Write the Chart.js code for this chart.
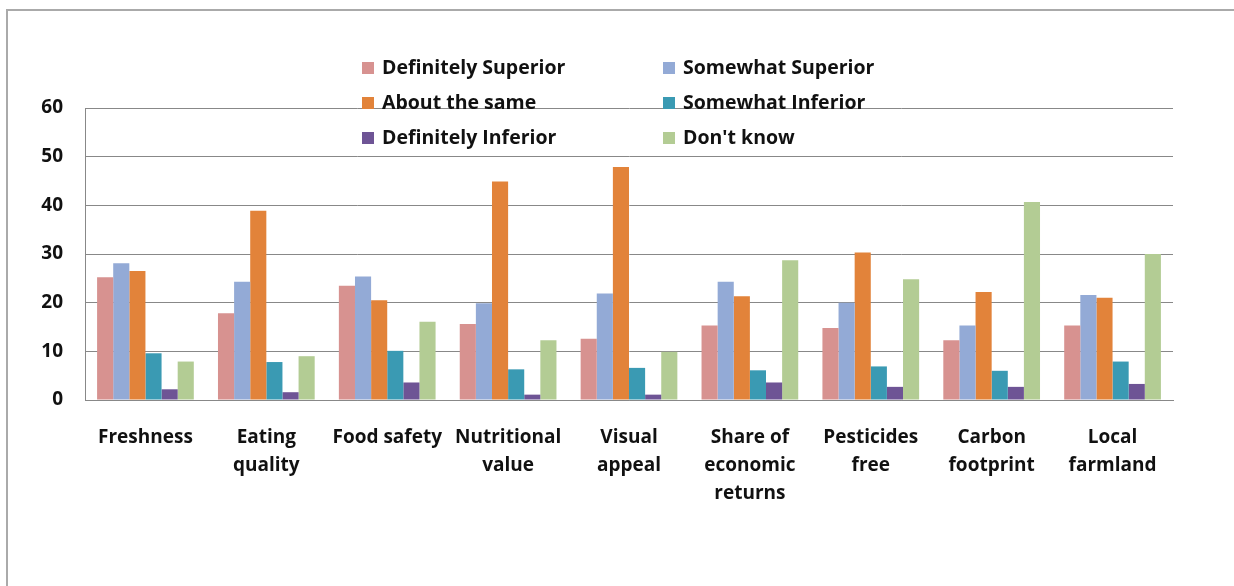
<!DOCTYPE html>
<html>
<head>
<meta charset="utf-8">
<script src="https://cdn.jsdelivr.net/npm/chart.js@4"></script>
<style>
  body { margin: 0; background: #fff; }
  #wrap { position: relative; width: 1234px; height: 586px; overflow: hidden; }
  #frame { position: absolute; left: 6px; top: 9px; width: 1300px; height: 700px;
           border-left: 2px solid #aaa; border-top: 2px solid #aaa; }
  #pieChart { position: absolute; left: 0; top: 0; }
  #legend { position: absolute; left: 362px; top: 53px; width: 560px;
            font: bold 19.5px "Open Sans", sans-serif; color: #111; }
  .item { position: absolute; white-space: nowrap; }
  .sw { display: inline-block; width: 12px; height: 12px; margin-right: 8px; vertical-align: 0px; }
</style>
</head>
<body>
<div id="wrap">
  <div id="frame"></div>
  <canvas id="pieChart" width="1234" height="586"></canvas>
  <div id="legend"></div>
</div>
<script>
// categories
var labelsArray = [
  "Freshness", ["Eating", "quality"], "Food safety", ["Nutritional", "value"],
  ["Visual", "appeal"], ["Share of", "economic", "returns"], ["Pesticides", "free"],
  ["Carbon", "footprint"], ["Local", "farmland"]
];

// series values
var definitelySuperior = [25.2, 17.8, 23.5, 15.6, 12.6, 15.3, 14.8, 12.3, 15.3];
var somewhatSuperior   = [28.1, 24.3, 25.4, 19.9, 21.9, 24.3, 20.0, 15.3, 21.6];
var aboutTheSame       = [26.5, 38.9, 20.5, 44.9, 47.9, 21.3, 30.3, 22.2, 21.0];
var somewhatInferior   = [9.6, 7.8, 10.1, 6.3, 6.6, 6.1, 6.9, 6.0, 7.9];
var definitelyInferior = [2.2, 1.6, 3.6, 1.1, 1.1, 3.6, 2.7, 2.7, 3.3];
var dontKnow           = [7.9, 9.0, 16.1, 12.3, 9.9, 28.7, 24.8, 40.7, 30.0];

var seriesNames = ["Definitely Superior", "Somewhat Superior", "About the same",
                   "Somewhat Inferior", "Definitely Inferior", "Don't know"];
var seriesData = [definitelySuperior, somewhatSuperior, aboutTheSame,
                  somewhatInferior, definitelyInferior, dontKnow];
var colors = ["#D79290", "#93AAD6", "#E2833A", "#3A9AB3", "#6E5495", "#B3CC94"];

var yTicks = [0, 10, 20, 30, 40, 50, 60];

var datasetJsonArray = seriesNames.map(function (name, i) {
  return {
    label: name,
    data: seriesData[i],
    backgroundColor: colors[i],
    barPercentage: 1,
    categoryPercentage: 0.8
  };
});

// html legend, 2 columns x 3 rows
var legendDiv = document.getElementById("legend");
seriesNames.forEach(function (name, i) {
  var el = document.createElement("div");
  el.className = "item";
  el.style.left = (i % 2 === 0 ? 0 : 301) + "px";
  el.style.top = (Math.floor(i / 2) * 35) + "px";
  el.innerHTML = '<span class="sw" style="background:' + colors[i] + '"></span>' + name.replace("'", "&#39;");
  legendDiv.appendChild(el);
});

var tickFont = { family: "'Open Sans', sans-serif", size: 19, weight: "bold", lineHeight: 1.47 };

var ctx = document.getElementById("pieChart");
var barChart = new Chart(ctx, {
  type: "bar",
  data: { labels: labelsArray, datasets: datasetJsonArray },
  options: {
    responsive: false,
    animation: false,
    layout: { padding: { top: 108, right: 61, left: 0, bottom: 0 } },
    plugins: { legend: { display: false }, tooltip: { enabled: false } },
    scales: {
      x: {
        grid: { display: false, drawTicks: false },
        border: { color: "#888", width: 1 },
        ticks: { color: "#111", font: tickFont, padding: 24, maxRotation: 0, autoSkip: false },
        afterFit: function (scale) { scale.height = 186; }
      },
      y: {
        min: 0, max: 60,
        afterBuildTicks: function (scale) { scale.ticks = yTicks.map(function (v) { return { value: v }; }); },
        grid: { color: "#888", drawTicks: false },
        border: { color: "#888", width: 1 },
        ticks: { color: "#111", font: { family: "'Open Sans', sans-serif", size: 19, weight: "bold" }, padding: 22 },
        afterFit: function (scale) { scale.width = 85; }
      }
    }
  }
});
</script>
</body>
</html>
